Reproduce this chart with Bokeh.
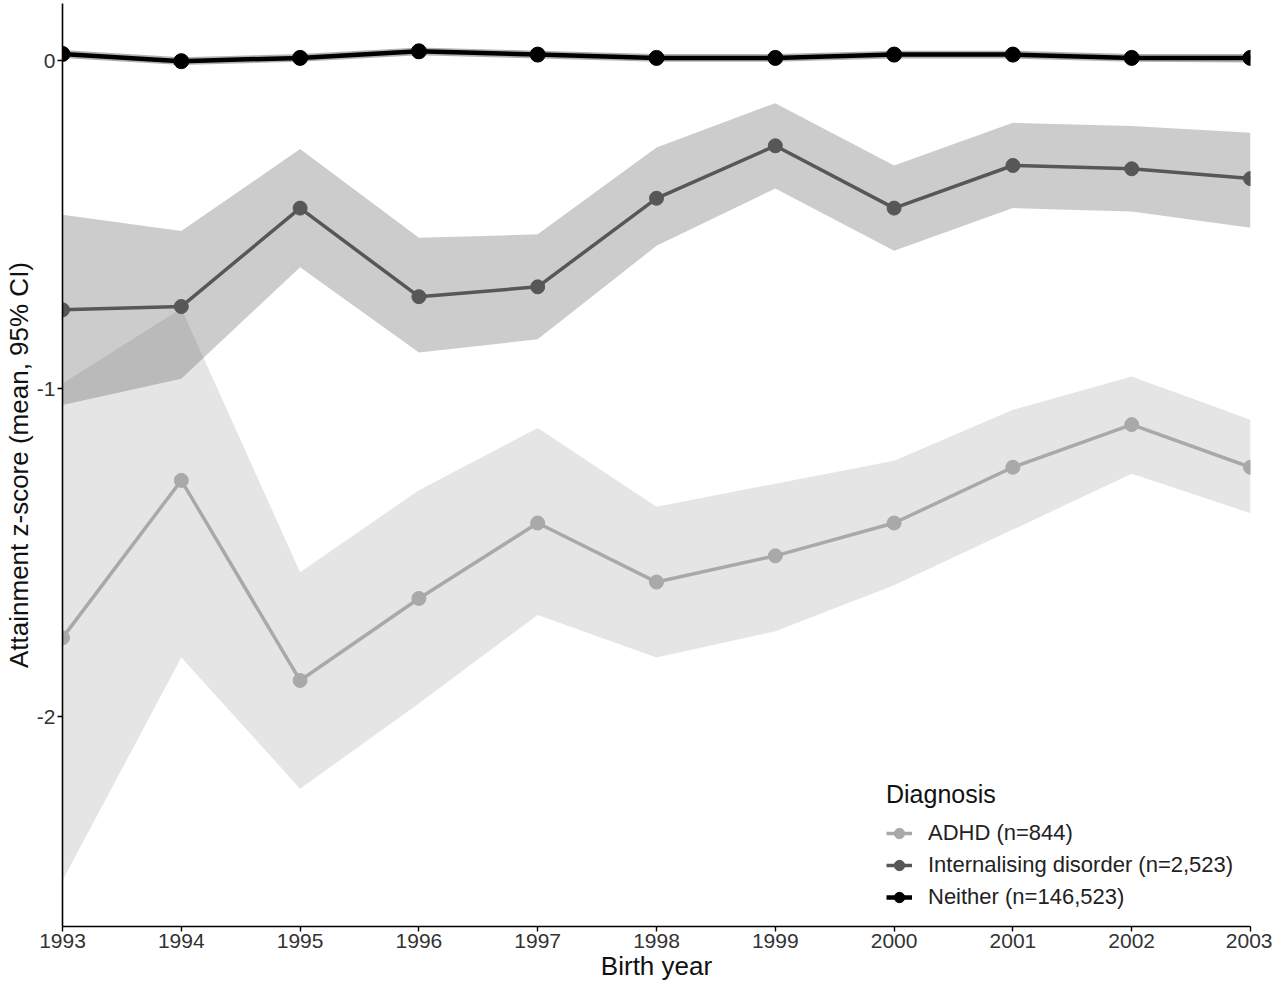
from bokeh.plotting import figure
from bokeh.models import Range1d, FixedTicker, Legend, LegendItem
from bokeh.embed import file_html
from bokeh.resources import INLINE

years = [1993, 1994, 1995, 1996, 1997, 1998, 1999, 2000, 2001, 2002, 2003]

adhd_mean = [-1.76, -1.28, -1.89, -1.64, -1.41, -1.59, -1.51, -1.41, -1.24, -1.11, -1.24]
adhd_lo = [-2.50, -1.82, -2.22, -1.96, -1.69, -1.82, -1.74, -1.60, -1.43, -1.26, -1.38]
adhd_hi = [-0.985, -0.756, -1.56, -1.31, -1.12, -1.36, -1.29, -1.22, -1.065, -0.963, -1.095]

int_mean = [-0.76, -0.75, -0.45, -0.72, -0.69, -0.42, -0.26, -0.45, -0.32, -0.33, -0.36]
int_lo = [-1.05, -0.97, -0.63, -0.89, -0.85, -0.565, -0.39, -0.58, -0.45, -0.46, -0.51]
int_hi = [-0.47, -0.52, -0.27, -0.54, -0.53, -0.265, -0.13, -0.32, -0.19, -0.20, -0.22]

nei_mean = [0.020, -0.002, 0.008, 0.028, 0.018, 0.008, 0.008, 0.018, 0.018, 0.008, 0.008]
nei_lo = [0.008, -0.014, -0.004, 0.016, 0.006, -0.004, -0.004, 0.006, 0.006, -0.004, -0.006]
nei_hi = [0.032, 0.010, 0.020, 0.040, 0.030, 0.020, 0.020, 0.030, 0.030, 0.020, 0.020]

labels = ["ADHD (n=844)", "Internalising disorder (n=2,523)", "Neither (n=146,523)"]
colors = ["#a9a9a9", "#575757", "#000000"]
y_ticks = [0, -1, -2]
y_tick_labels = ["0", "-1", "-2"]

FONT = "Liberation Sans"

p = figure(width=1272, height=984, output_backend="svg", toolbar_location=None,
           x_range=Range1d(1993, 2003), y_range=Range1d(-2.640, 0.1738),
           min_border_left=62, min_border_right=22, min_border_top=3, min_border_bottom=58,
           background_fill_color="white", border_fill_color="white")
p.outline_line_color = None
p.grid.visible = False

series = [
    (adhd_mean, adhd_lo, adhd_hi, 3.5, 14),
    (int_mean, int_lo, int_hi, 3.5, 14),
    (nei_mean, nei_lo, nei_hi, 4.5, 15),
]

for (m, lo, hi, lw, sz), c in zip(series, colors):
    p.varea(x=years, y1=lo, y2=hi, fill_color=c, fill_alpha=0.3)

items = []
for (m, lo, hi, lw, sz), c, lab in zip(series, colors, labels):
    rl = p.line(x=years, y=m, line_color=c, line_width=lw)
    rs = p.scatter(x=years, y=m, size=sz, fill_color=c, line_color=c)
    items.append(LegendItem(label=lab, renderers=[rl, rs]))

legend = Legend(items=items, title="Diagnosis", location=(824, 16),
                padding=0, margin=0, border_line_color=None, background_fill_alpha=0,
                label_text_font=FONT, label_text_font_size="22px", label_text_color="#222222",
                title_text_font=FONT, title_text_font_size="25px", title_text_font_style="normal",
                title_text_color="#111111", title_standoff=11,
                glyph_width=26, glyph_height=26, label_height=26, label_standoff=16, spacing=6)
p.add_layout(legend)

p.xaxis.ticker = FixedTicker(ticks=years)
p.yaxis.ticker = FixedTicker(ticks=y_ticks)
p.yaxis.major_label_overrides = {t: s for t, s in zip(y_ticks, y_tick_labels)}
p.xaxis.axis_label = "Birth year"
p.yaxis.axis_label = "Attainment z-score (mean, 95% CI)"

for ax in (p.xaxis, p.yaxis):
    ax.axis_line_color = "black"
    ax.axis_line_width = 1.6
    ax.major_tick_line_color = "black"
    ax.major_tick_line_width = 1.4
    ax.major_tick_out = 5
    ax.major_tick_in = 0
    ax.minor_tick_out = 0
    ax.minor_tick_in = 0
    ax.major_label_text_font = FONT
    ax.major_label_text_font_size = "21px"
    ax.major_label_text_color = "#333333"
    ax.major_label_standoff = 2
    ax.axis_label_text_font = FONT
    ax.axis_label_text_font_size = "26px"
    ax.axis_label_text_font_style = "normal"
    ax.axis_label_text_color = "#111111"
    ax.axis_label_standoff = 0

open("out.html", "w").write(file_html(p, INLINE))
